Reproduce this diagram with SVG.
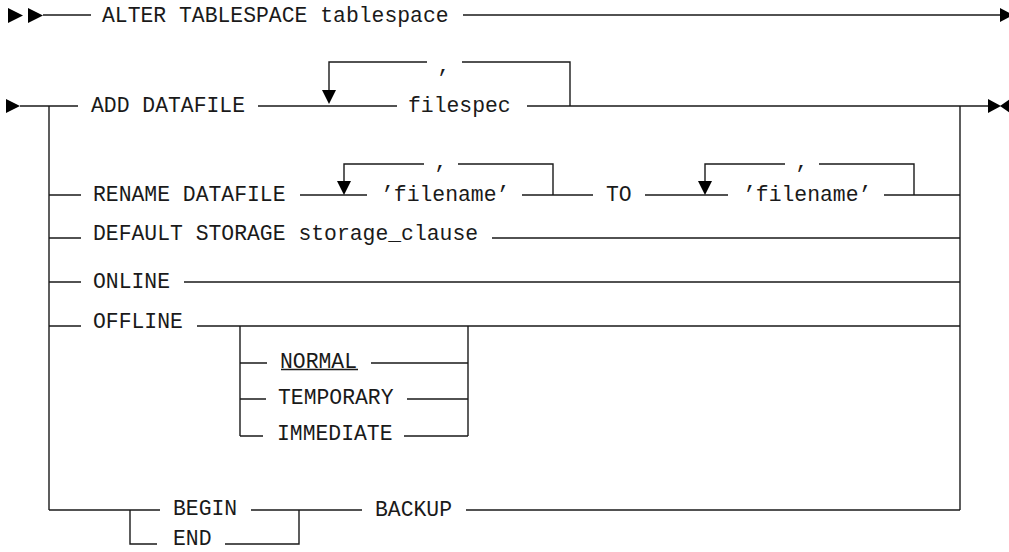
<svg xmlns="http://www.w3.org/2000/svg" width="1009" height="552" viewBox="0 0 1009 552">
<style>
.t{font-family:"Liberation Mono","Courier New",monospace;font-size:21.4px;fill:#1a1a1a}
.c{text-anchor:middle}
.l{fill:none;stroke:#1a1a1a;stroke-width:1.4}
.a{fill:#000;stroke:none}
</style>
<rect width="1009" height="552" fill="#fff"/>
<g id="connectors">
<path class="l" d="M43,15H91 M463,15H1001"/>
<path class="l" d="M20,106H78 M258,106H397 M527,106H989"/>
<path class="l" d="M329,92V62H427 M462,62H570V106"/>
<path class="l" d="M49,106V510 M960,106V510"/>
<path class="l" d="M49,195H81 M300,195H367 M522,195H593 M645,195H728 M884,195H960"/>
<path class="l" d="M344,183V164H424 M458,164H553V195"/>
<path class="l" d="M705,183V164H785 M819,164H914V195"/>
<path class="l" d="M49,238H81 M492,238H960"/>
<path class="l" d="M49,282H81 M184,282H960"/>
<path class="l" d="M49,326H81 M197,326H960"/>
<path class="l" d="M240,326V436 M468,326V436"/>
<path class="l" d="M240,363H267 M371,363H468 M240,399H266 M407,399H468 M240,436H263 M404,436H468"/>
<path class="l" d="M49,510H160 M130,510V544H157 M225,544H299V510 M251,510H362 M466,510H960"/>
<polygon class="a" points="8,8 23,15.5 8,23"/>
<polygon class="a" points="28,8 43,15.5 28,23"/>
<polygon class="a" points="1000,8 1013,15 1000,22"/>
<polygon class="a" points="6,99 20,106 6,113"/>
<polygon class="a" points="988,99 1001,106 988,113"/>
<polygon class="a" points="1010,99 1000,106 1010,113"/>
<polygon class="a" points="322,90 336,90 329,104"/>
<polygon class="a" points="337,181 351,181 344,195"/>
<polygon class="a" points="698,181 712,181 705,195"/>
</g>
<g id="n-alter"><text class="t" x="102" y="22">ALTER TABLESPACE tablespace</text></g>
<g id="n-add"><text class="t" x="91" y="112">ADD DATAFILE</text></g>
<g id="n-comma1"><text class="t c" x="444" y="72">,</text></g>
<g id="n-filespec"><text class="t" x="408" y="112">filespec</text></g>
<g id="n-rename"><text class="t" x="93" y="201">RENAME DATAFILE</text></g>
<g id="n-comma2"><text class="t c" x="441" y="168">,</text></g>
<g id="n-filename1"><text class="t" x="381" y="201">’filename’</text></g>
<g id="n-to"><text class="t" x="606" y="201">TO</text></g>
<g id="n-comma3"><text class="t c" x="802" y="168">,</text></g>
<g id="n-filename2"><text class="t" x="743" y="201">’filename’</text></g>
<g id="n-default"><text class="t" x="93" y="240">DEFAULT STORAGE storage_clause</text></g>
<g id="n-online"><text class="t" x="93" y="288">ONLINE</text></g>
<g id="n-offline"><text class="t" x="93" y="328">OFFLINE</text></g>
<g id="n-normal"><text class="t" x="280" y="368">NORMAL</text><path class="l" d="M281,369.5H358"/></g>
<g id="n-temporary"><text class="t" x="278" y="404">TEMPORARY</text></g>
<g id="n-immediate"><text class="t" x="277" y="440">IMMEDIATE</text></g>
<g id="n-begin"><text class="t" x="173" y="515">BEGIN</text></g>
<g id="n-end"><text class="t" x="173" y="545">END</text></g>
<g id="n-backup"><text class="t" x="375" y="516">BACKUP</text></g>
</svg>
